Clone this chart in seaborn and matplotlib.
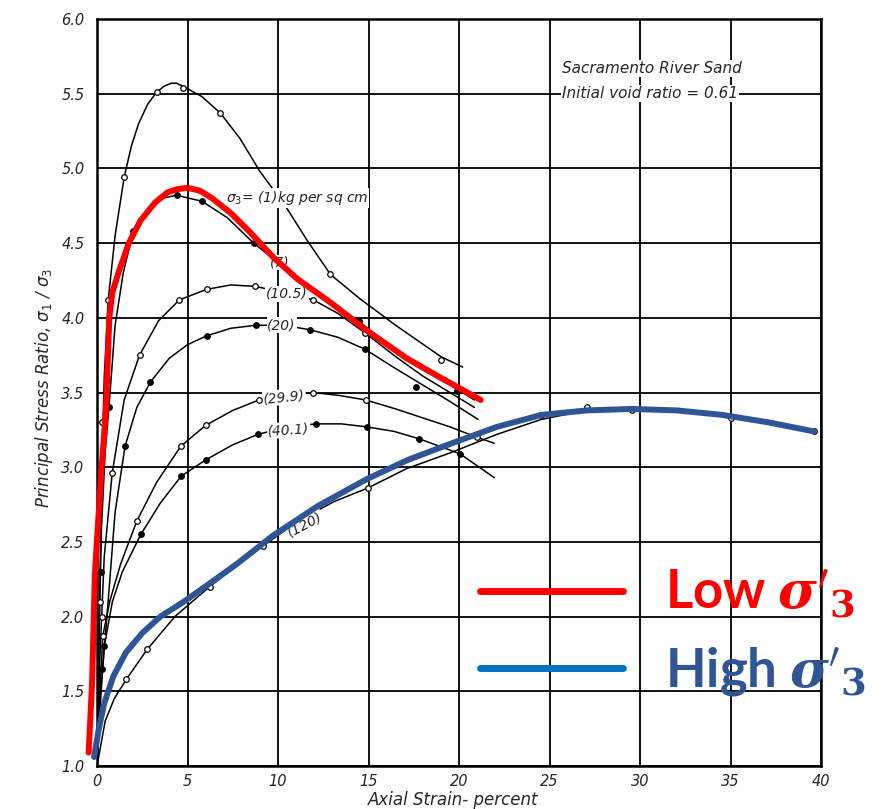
import matplotlib
matplotlib.use("Agg")
import matplotlib.pyplot as plt
import seaborn as sns
from matplotlib.lines import Line2D

# ---------------- data ----------------
x_ticks = [0, 5, 10, 15, 20, 25, 30, 35, 40]
x_tick_labels = ["0", "5", "10", "15", "20", "25", "30", "35", "40"]
y_ticks = [1.0, 1.5, 2.0, 2.5, 3.0, 3.5, 4.0, 4.5, 5.0, 5.5, 6.0]
y_tick_labels = ["1.0", "1.5", "2.0", "2.5", "3.0", "3.5", "4.0", "4.5", "5.0", "5.5", "6.0"]

# scanned test curves (sigma3 in kg per sq cm)
a_x = [0, 0.1, 0.25, 0.4, 0.62, 1.0, 1.5, 1.9, 2.3, 2.8, 3.3, 3.7, 4.1, 4.4, 4.75, 5.8, 6.82, 7.9, 9.0, 10.4, 11.6, 12.9, 14.5, 16.5, 19.0, 20.2]
a_y = [1.0, 1.8, 2.9, 3.6, 4.12, 4.55, 4.94, 5.15, 5.3, 5.43, 5.51, 5.55, 5.57, 5.57, 5.55, 5.48, 5.37, 5.2, 4.98, 4.75, 4.52, 4.29, 4.13, 3.95, 3.74, 3.67]
a_mx = [0.15, 0.3, 0.62, 1.5, 3.3, 4.75, 6.82, 12.9, 19.0]
a_my = [2.1, 3.3, 4.12, 4.94, 5.51, 5.54, 5.37, 4.29, 3.72]

b_x = [0, 0.1, 0.25, 0.45, 0.66, 1.0, 1.45, 2.0, 2.8, 3.6, 4.4, 5.8, 7.2, 8.65, 10.0, 11.4, 12.9, 14.45, 16.0, 17.6, 19.55, 20.85]
b_y = [1.0, 1.8, 2.6, 3.1, 3.4, 3.95, 4.3, 4.58, 4.72, 4.8, 4.82, 4.78, 4.67, 4.5, 4.37, 4.23, 4.1, 3.98, 3.82, 3.68, 3.55, 3.45]
b_mx = [0.2, 0.66, 2.0, 4.4, 5.8, 8.65, 14.45, 17.65, 19.9]
b_my = [2.3, 3.4, 4.58, 4.82, 4.78, 4.5, 3.98, 3.54, 3.51]

c_x = [0, 0.15, 0.4, 0.84, 1.5, 2.35, 3.4, 4.55, 6.05, 7.4, 8.75, 10.3, 11.95, 13.3, 14.8, 16.5, 18.0, 19.5, 20.85]
c_y = [1.0, 1.7, 2.4, 2.96, 3.45, 3.75, 3.98, 4.12, 4.19, 4.22, 4.21, 4.17, 4.12, 4.03, 3.9, 3.74, 3.61, 3.5, 3.4]
c_mx = [0.25, 0.84, 2.35, 4.55, 6.05, 8.75, 11.95, 14.8]
c_my = [2.0, 2.96, 3.75, 4.12, 4.19, 4.21, 4.12, 3.9]

d_x = [0, 0.2, 0.55, 1.0, 1.55, 2.2, 2.95, 4.0, 5.0, 6.07, 7.4, 8.77, 10.3, 11.77, 13.3, 14.8, 16.5, 18.0, 19.5, 21.05]
d_y = [1.0, 1.5, 2.0, 2.7, 3.14, 3.4, 3.57, 3.73, 3.82, 3.88, 3.93, 3.95, 3.95, 3.92, 3.87, 3.79, 3.66, 3.55, 3.44, 3.32]
d_mx = [0.3, 1.55, 2.95, 6.07, 8.77, 11.77, 14.8]
d_my = [1.65, 3.14, 3.57, 3.88, 3.95, 3.92, 3.79]

e_x = [0, 0.12, 0.32, 0.7, 1.3, 2.2, 3.3, 4.63, 6.0, 7.5, 8.95, 10.5, 11.95, 13.4, 14.85, 16.5, 18.0, 19.5, 21.0, 21.95]
e_y = [1.0, 1.4, 1.87, 2.1, 2.35, 2.64, 2.9, 3.14, 3.28, 3.38, 3.45, 3.48, 3.5, 3.48, 3.45, 3.39, 3.33, 3.27, 3.2, 3.16]
e_mx = [0.32, 2.2, 4.63, 6.0, 8.95, 11.95, 14.85, 21.0]
e_my = [1.87, 2.64, 3.14, 3.28, 3.45, 3.5, 3.45, 3.2]

f_x = [0, 0.15, 0.4, 0.85, 1.4, 2.42, 3.5, 4.65, 6.02, 7.5, 8.9, 10.5, 12.1, 13.5, 14.9, 16.4, 17.8, 20.05, 21.95]
f_y = [1.0, 1.35, 1.8, 2.1, 2.3, 2.55, 2.76, 2.94, 3.05, 3.15, 3.22, 3.27, 3.29, 3.29, 3.27, 3.24, 3.19, 3.09, 2.93]
f_mx = [0.4, 2.42, 4.65, 6.02, 8.9, 12.1, 14.9, 17.8, 20.05]
f_my = [1.8, 2.55, 2.94, 3.05, 3.22, 3.29, 3.27, 3.19, 3.09]

g_x = [0, 0.45, 0.95, 1.62, 2.77, 4.3, 6.22, 7.7, 9.15, 11.1, 13.1, 14.95, 17.1, 19.6, 22.1, 24.55, 27.05, 29.55, 32.05, 35.05, 37.5, 39.6]
g_y = [1.0, 1.3, 1.45, 1.58, 1.78, 2.0, 2.2, 2.34, 2.47, 2.64, 2.77, 2.86, 2.99, 3.1, 3.22, 3.32, 3.38, 3.39, 3.38, 3.34, 3.3, 3.24]
g_mx = [1.62, 2.77, 6.22, 9.15, 14.95, 24.55, 27.05, 29.55, 35.05, 39.6]
g_my = [1.58, 1.78, 2.2, 2.47, 2.86, 3.35, 3.4, 3.38, 3.33, 3.24]

curve_labels = ["(7)", "(10.5)", "(20)", "(29.9)", "(40.1)", "(120)"]
curve_label_x = [10.1, 10.5, 10.2, 10.35, 10.6, 11.5]
curve_label_y = [4.37, 4.16, 3.95, 3.47, 3.25, 2.62]
curve_label_rot = [0, 0, 0, 6, 4, 28]

# overlay curves
low_x = [-0.46, -0.27, -0.12, 0.2, 0.5, 0.68, 0.85, 1.18, 1.76, 2.4, 3.2, 3.9, 4.4, 5.0, 5.7, 6.36, 7.4, 8.4, 9.78, 11.07, 12.93, 14.85, 17.1, 18.97, 21.2]
low_y = [1.09, 1.56, 2.28, 2.9, 3.4, 4.0, 4.17, 4.3, 4.5, 4.65, 4.77, 4.84, 4.86, 4.87, 4.85, 4.8, 4.7, 4.58, 4.4, 4.26, 4.1, 3.92, 3.73, 3.6, 3.45]
high_x = [-0.16, 0.1, 0.4, 0.9, 1.6, 2.5, 3.5, 4.8, 6.2, 7.7, 9.7, 12.2, 14.9, 17.2, 19.6, 22.1, 24.55, 27.05, 29.55, 32.05, 34.55, 37.1, 39.6]
high_y = [1.06, 1.25, 1.42, 1.6, 1.76, 1.89, 2.0, 2.1, 2.22, 2.35, 2.54, 2.74, 2.92, 3.05, 3.16, 3.27, 3.35, 3.38, 3.39, 3.38, 3.35, 3.3, 3.24]

legend_labels = [r"Low $\boldsymbol{\sigma}'_{\mathbf{3}}$", r"High $\boldsymbol{\sigma}'_{\mathbf{3}}$"]

# ---------------- drawing ----------------
sns.set_style("white")
plt.rcParams['font.family'] = ['DejaVu Sans']
plt.rcParams['mathtext.fontset'] = 'dejavusans'

fig = plt.figure(figsize=(8.94, 8.09), dpi=100)
ax = fig.add_axes([97 / 894, 1 - 766 / 809, (821 - 97) / 894, (766 - 19) / 809])

ax.set_xlim(0, 40)
ax.set_ylim(1.0, 6.0)
ax.set_xticks(x_ticks)
ax.set_xticklabels(x_tick_labels, fontsize=10.5, fontstyle='italic')
ax.set_yticks(y_ticks)
ax.set_yticklabels(y_tick_labels, fontsize=10.5, fontstyle='italic')
ax.tick_params(length=0)
ax.tick_params(axis='x', pad=6)
ax.tick_params(axis='y', pad=9)
ax.set_axisbelow(True)
ax.grid(True, color='black', lw=1.3)
for sp in ax.spines.values():
    sp.set_color('black')
    sp.set_linewidth(1.8)

curves = [(a_x, a_y, a_mx, a_my, False), (b_x, b_y, b_mx, b_my, True),
          (c_x, c_y, c_mx, c_my, False), (d_x, d_y, d_mx, d_my, True),
          (e_x, e_y, e_mx, e_my, False), (f_x, f_y, f_mx, f_my, True),
          (g_x, g_y, g_mx, g_my, False)]
for cx, cy, mx, my, filled in curves:
    sns.lineplot(x=cx, y=cy, ax=ax, color='black', lw=1.1, sort=False,
                 estimator=None, zorder=2)
    sns.scatterplot(x=mx, y=my, ax=ax, s=16, color='black' if filled else 'white',
                    edgecolor='black', linewidth=0.9, zorder=3)

for txt, lx, ly, rot in zip(curve_labels, curve_label_x, curve_label_y, curve_label_rot):
    ax.text(lx, ly, txt, fontsize=10, fontstyle='italic', ha='center', va='center',
            rotation=rot, zorder=4,
            bbox=dict(fc='white', ec='none', pad=0.6))

ax.text(7.1, 4.8, r"$\sigma_3$= (1)kg per sq cm", fontsize=10, fontstyle='italic',
        ha='left', va='center', zorder=4, bbox=dict(fc='white', ec='none', pad=0.6))
ax.text(25.7, 5.67, "Sacramento River Sand", fontsize=11, fontstyle='italic',
        ha='left', va='center', zorder=4, bbox=dict(fc='white', ec='none', pad=0.8))
ax.text(25.7, 5.5, "Initial void ratio = 0.61", fontsize=11, fontstyle='italic',
        ha='left', va='center', zorder=4, bbox=dict(fc='white', ec='none', pad=0.8))

sns.lineplot(x=low_x, y=low_y, ax=ax, color='#FF0000', lw=4.3, sort=False,
             estimator=None, zorder=5)
ax.lines[-1].set_clip_on(False)
sns.lineplot(x=high_x, y=high_y, ax=ax, color='#2F5597', lw=4.3, sort=False,
             estimator=None, zorder=5)
ax.lines[-1].set_clip_on(False)

ax.set_xlabel("Axial Strain- percent", fontsize=12, fontstyle='italic')
ax.xaxis.label.set_va('center')
ax.xaxis.set_label_coords(0.492, -0.0455)
ax.set_ylabel(r"Principal Stress Ratio, $\sigma_1$ / $\sigma_3$", fontsize=12, fontstyle='italic')
ax.yaxis.label.set_va('center')
ax.yaxis.set_label_coords(-0.073, 0.506)

handles = [Line2D([], [], color='#FF0000', lw=5), Line2D([], [], color='#0070C0', lw=5)]
leg = ax.legend(handles, legend_labels, loc='center left',
                bbox_to_anchor=(480 / 894, 1 - 633 / 809), bbox_transform=fig.transFigure,
                frameon=False, prop={'family': 'Lato', 'weight': 'bold', 'size': 38},
                handlelength=2.7, handletextpad=0.8, labelspacing=0.47,
                borderpad=0, borderaxespad=0)
for t, c in zip(leg.get_texts(), ['#FF0000', '#2F5597']):
    t.set_color(c)
    t.set_math_fontfamily('dejavuserif')

fig.savefig("out.png", dpi=100)
